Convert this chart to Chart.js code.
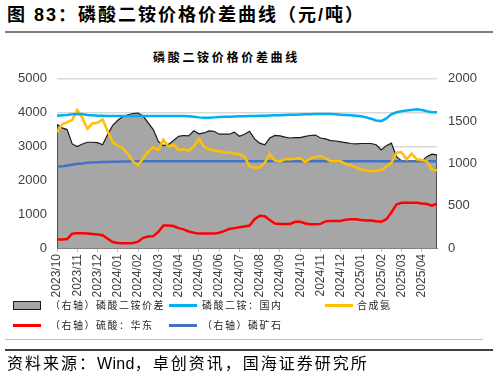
<!DOCTYPE html>
<html>
<head>
<meta charset="utf-8">
<script src="https://cdn.jsdelivr.net/npm/chart.js@4.4.1/dist/chart.umd.min.js"></script>
<style>
  body { margin: 0; width: 498px; height: 378px; background: #fff; position: relative; overflow: hidden;
         font-family: 'Noto Sans CJK SC', sans-serif; color: #000; }
  .abs { position: absolute; white-space: nowrap; }
  #fig { left: 7px; top: 6px; font-size: 18px; line-height: 18px; font-weight: bold; letter-spacing: 2px;
         font-family: 'Liberation Sans', 'Noto Sans CJK SC', sans-serif; }
  #figLine { left: 5px; top: 31px; width: 488px; height: 2px; background: #7f7f7f; }
  #chartTitle { left: 153px; top: 51px; font-size: 12px; line-height: 12px; font-weight: bold; letter-spacing: 2.7px; color: #000; }
  #wrap { left: 0; top: 60px; width: 498px; height: 240px; }
  .lg { font-size: 10px; line-height: 12px; letter-spacing: 1.5px; color: #262626; }
  .sw { height: 3px; width: 28px; }
  #box { left: 13px; top: 301px; width: 28px; height: 9px; box-sizing: border-box; background: #a6a6a6; border: 1.5px solid #1a1a1a; }
  #grayLine { left: 5px; top: 339px; width: 478px; height: 1px; background: #bfbfbf; }
  #blackLine { left: 5px; top: 349px; width: 488px; height: 2px; background: #404040; }
  #src { left: 7px; top: 355px; font-size: 16px; line-height: 17px; letter-spacing: 2px;
         font-family: 'Liberation Sans', 'Noto Sans CJK SC', sans-serif; }
  #src span { letter-spacing: 0.3px; }
</style>
</head>
<body>
<div class="abs" id="fig">图 83：磷酸二铵价格价差曲线（元/吨）</div>
<div class="abs" id="figLine"></div>
<div class="abs" id="chartTitle">磷酸二铵价格价差曲线</div>
<div class="abs" id="wrap"><canvas id="chart" width="498" height="240"></canvas></div>

<div class="abs" id="box"></div>
<div class="abs lg" style="left:50px;top:299px">（右轴）磷酸二铵价差</div>
<div class="abs sw" style="left:169px;top:304px;background:#00b0f0"></div>
<div class="abs lg" style="left:202px;top:299px">磷酸二铵：国内</div>
<div class="abs sw" style="left:325px;top:304px;background:#ffc000"></div>
<div class="abs lg" style="left:357px;top:299px">合成氨</div>
<div class="abs sw" style="left:13px;top:324px;background:#ff0000"></div>
<div class="abs lg" style="left:50px;top:319px">（右轴）硫酸：华东</div>
<div class="abs sw" style="left:169px;top:324px;background:#4472c4"></div>
<div class="abs lg" style="left:202px;top:319px">（右轴）磷矿石</div>

<div class="abs" id="grayLine"></div>
<div class="abs" id="blackLine"></div>
<div class="abs" id="src">资料来源：<span>Wind</span>，卓创资讯，国海证券研究所</div>

<script>
// tick labels (one per month, starting 2023/10)
const monthLabels = ['2023/10', '2023/11', '2023/12', '2024/01', '2024/02', '2024/03', '2024/04',
  '2024/05', '2024/06', '2024/07', '2024/08', '2024/09', '2024/10', '2024/11', '2024/12',
  '2025/01', '2025/02', '2025/03', '2025/04'];

// weekly readings, 4 per month from 2023/10
// (右轴) 磷酸二铵价差
const dapSpread = [1460, 1420, 1400, 1230, 1200, 1230, 1250, 1250, 1245, 1220,
  1340, 1450, 1510, 1555, 1575, 1590, 1595, 1560, 1480, 1400,
  1260, 1210, 1225, 1270, 1320, 1330, 1325, 1385, 1350, 1360,
  1385, 1380, 1345, 1345, 1345, 1370, 1320, 1345, 1380, 1290,
  1240, 1220, 1300, 1330, 1325, 1310, 1300, 1305, 1305, 1320,
  1330, 1335, 1300, 1290, 1270, 1265, 1255, 1245, 1235, 1230,
  1235, 1235, 1235, 1220, 1160, 1210, 1240, 1080, 1030, 1035,
  1025, 1025, 1025, 1080, 1110, 1100];
// 磷酸二铵：国内
const dapDomestic = [3910, 3920, 3930, 3950, 3960, 3950, 3930, 3920, 3910, 3905,
  3900, 3900, 3900, 3900, 3900, 3900, 3900, 3900, 3900, 3900,
  3900, 3900, 3900, 3900, 3900, 3900, 3890, 3880, 3860, 3850,
  3850, 3860, 3870, 3875, 3880, 3885, 3890, 3895, 3900, 3900,
  3905, 3910, 3915, 3920, 3925, 3930, 3935, 3940, 3945, 3950,
  3955, 3960, 3960, 3960, 3960, 3950, 3940, 3930, 3920, 3905,
  3890, 3860, 3820, 3770, 3750, 3830, 3950, 4010, 4040, 4060,
  4080, 4100, 4080, 4040, 4010, 4010];
// 合成氨
const ammonia = [3430, 3650, 3720, 3780, 4080, 3850, 3520, 3680, 3700, 3800,
  3450, 3130, 3020, 2950, 2780, 2560, 2440, 2650, 2850, 2980,
  2900, 3200, 3000, 3050, 2900, 2920, 2880, 3000, 3230, 3000,
  2920, 2880, 2860, 2830, 2820, 2790, 2770, 2700, 2420, 2380,
  2380, 2520, 2780, 2580, 2560, 2620, 2620, 2640, 2660, 2540,
  2640, 2690, 2720, 2650, 2560, 2560, 2560, 2480, 2440, 2380,
  2320, 2300, 2260, 2280, 2310, 2400, 2520, 2820, 2830, 2620,
  2790, 2620, 2600, 2560, 2310, 2300];
// (右轴) 硫酸：华东
const sulfuricAcid = [100, 100, 105, 170, 175, 175, 170, 165, 160, 150,
  110, 70, 60, 55, 55, 60, 75, 120, 135, 140,
  190, 265, 265, 260, 235, 220, 195, 180, 170, 170,
  170, 170, 180, 200, 225, 235, 245, 255, 265, 340,
  380, 375, 330, 290, 285, 285, 285, 310, 310, 290,
  280, 280, 285, 315, 320, 320, 320, 335, 340, 340,
  330, 325, 325, 315, 310, 340, 420, 515, 535, 535,
  535, 535, 525, 520, 500, 525];
// (右轴) 磷矿石
const phosphateRock = [960, 965, 975, 985, 995, 1000, 1008, 1012, 1015, 1017,
  1018, 1020, 1020, 1022, 1023, 1024, 1025, 1025, 1025, 1025,
  1025, 1025, 1025, 1025, 1025, 1025, 1025, 1025, 1025, 1025,
  1025, 1025, 1025, 1025, 1025, 1025, 1025, 1025, 1025, 1025,
  1025, 1025, 1025, 1025, 1025, 1025, 1025, 1025, 1025, 1025,
  1025, 1025, 1025, 1025, 1025, 1025, 1025, 1025, 1025, 1025,
  1025, 1025, 1025, 1025, 1025, 1025, 1025, 1025, 1025, 1025,
  1025, 1025, 1025, 1025, 1025, 1025];

// x position of each reading, in months since 2023/10
const weekPos = dapSpread.map((_, i) => i / 4);
const lastPos = weekPos[weekPos.length - 1];
const pts = arr => arr.map((v, i) => ({ x: weekPos[i], y: v }));

const tickFont = { family: "'Liberation Sans', Arial, sans-serif", size: 13 };

function lineSet(label, arr, color, axis) {
  return {
    label, data: pts(arr), yAxisID: axis, borderColor: color, borderWidth: 2.5,
    pointRadius: 0, tension: 0, fill: false, order: 1
  };
}

new Chart(document.getElementById('chart').getContext('2d'), {
  type: 'line',
  data: {
    datasets: [
      lineSet('磷酸二铵：国内', dapDomestic, '#00b0f0', 'y'),
      lineSet('合成氨', ammonia, '#ffc000', 'y'),
      lineSet('（右轴）硫酸：华东', sulfuricAcid, '#ff0000', 'y2'),
      lineSet('（右轴）磷矿石', phosphateRock, '#4472c4', 'y2'),
      {
        label: '（右轴）磷酸二铵价差',
        // close the area down to zero at both ends, like the original
        data: [{ x: weekPos[0], y: 0 }, ...pts(dapSpread), { x: lastPos, y: 0 }],
        yAxisID: 'y2', borderColor: '#1a1a1a', borderWidth: 1.2,
        backgroundColor: '#a6a6a6', fill: 'origin', pointRadius: 0, tension: 0, order: 5
      }
    ]
  },
  options: {
    responsive: false,
    animation: false,
    layout: { padding: { top: 15, left: 0, right: 0, bottom: 0 } },
    plugins: { legend: { display: false }, tooltip: { enabled: false } },
    scales: {
      x: {
        type: 'linear', min: 0, max: lastPos,
        ticks: {
          stepSize: 1, includeBounds: false, autoSkip: false, maxRotation: 90, minRotation: 90,
          padding: 2, color: '#404040', font: { family: tickFont.family, size: 12 },
          callback: v => monthLabels[v] ?? ''
        },
        grid: { drawOnChartArea: false, drawTicks: true, tickLength: 4, color: '#bfbfbf' },
        border: { display: true, color: '#808080' },
        afterFit: s => { s.height = 52; }
      },
      y: {
        position: 'left', min: 0, max: 5000,
        ticks: { stepSize: 1000, padding: 10, color: '#404040', font: tickFont, callback: v => String(v) },
        grid: { color: '#d9d9d9', lineWidth: 1.5, drawTicks: false },
        border: { display: false },
        afterFit: s => { s.width = 57; }
      },
      y2: {
        position: 'right', min: 0, max: 2000,
        ticks: { stepSize: 500, padding: 11, color: '#404040', font: tickFont, callback: v => String(v) },
        grid: { drawOnChartArea: false, drawTicks: false },
        border: { display: false },
        afterFit: s => { s.width = 61; }
      }
    }
  }
});
</script>
</body>
</html>
